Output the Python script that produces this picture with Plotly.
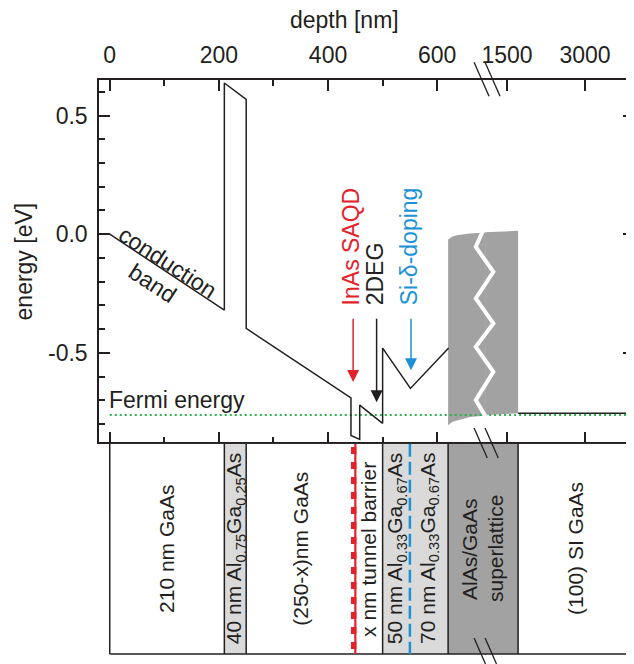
import plotly.graph_objects as go

# ---------------- data ----------------
# conduction band, GaAs side of the axis break  (depth nm, energy eV)
band_depth = [0, 210, 210, 250, 250, 442, 442, 458, 458, 500, 500, 551, 621]
band_energy = [0.0, -0.32, 0.637, 0.568, -0.397, -0.69, -0.848, -0.865, -0.72, -0.797, -0.48, -0.65, -0.48]

# conduction band in the SI GaAs substrate
substrate_depth = [1712, 4000]
substrate_energy = [-0.755, -0.755]

# superlattice band envelope (grey area)
sl_depth = [620, 628, 636, 660, 690, 1070, 1712]
sl_top_energy = [-0.022, -0.010, -0.004, 0.003, 0.007, 0.008, 0.014]
sl_bottom_energy = [-0.805, -0.790, -0.783, -0.770, -0.764, -0.762, -0.755]

# Fermi level
fermi_depth = [0, 4000]
fermi_energy = -0.762

# labelled markers with arrows
marker_labels = ["InAs SAQD", "2DEG", "Si-δ-doping"]
marker_depth = [446, 489, 552]
marker_tip = [-0.623, -0.708, -0.573]
marker_tail = -0.35

# layer stack
layer_start = [0, 210, 250, 450, 500, 550, 620, 1712]
layer_end = [210, 250, 450, 500, 550, 620, 1712, 4000]
layer_labels = [
    ["210 nm GaAs"],
    ["40 nm Al<sub>0.75</sub>Ga<sub>0.25</sub>As"],
    ["(250-x)nm GaAs"],
    ["x nm tunnel barrier"],
    ["50 nm Al<sub>0.33</sub>Ga<sub>0.67</sub>As"],
    ["70 nm Al<sub>0.33</sub>Ga<sub>0.67</sub>As"],
    ["AlAs/GaAs", "superlattice"],
    ["(100) SI GaAs"],
]
layer_kind = ["gaas", "algaas", "gaas", "barrier", "algaas", "algaas", "sl", "gaas"]
layer_borders = [0, 210, 250, 500, 620, 1712]
qd_depth = 450
doping_depth = 550

x_ticks_left = [0, 200, 400, 600]
x_minor_left = [100, 300, 500]
x_ticks_right = [1500, 3000]
y_ticks = [-0.5, 0.0, 0.5]
y_ticktext = ["-0.5", "0.0", "0.5"]

# ---------------- style / geometry ----------------
INK = "#231f20"
RED = "#e3222b"
BLUE = "#1b92d6"
GREEN = "#2bb34b"
SL_GREY = "#a2a2a2"
LIGHT_GREY = "#dadada"
FONT = "Liberation Sans, Arial, Helvetica, sans-serif"
FS = 23
FS_LAYER = 21
LW = 1.5

# page coordinates (the html body adds an 8px margin); axis lines sit half a
# line width outside the plot area, so the plot edges are offset by LW/2
PAGE_W, PAGE_H, OFF = 634, 664, 8
PLOT_L, PLOT_R, PLOT_T, PLOT_B = 98 + LW / 2, 634, 79 + LW / 2, 660
FIG_W, FIG_H = PAGE_W - OFF, PAGE_H - OFF
PW, PH = PLOT_R - PLOT_L, PLOT_B - PLOT_T


def fx(p):
    return (p - PLOT_L) / PW


def fy(p):
    return (PLOT_B - p) / PH


BREAK_PX = 485
TOP_BOTTOM_PX = 443 - LW / 2
LAYER_TOP_PX = 443 + LW / 2
LAYER_BOTTOM_PX = 654
# pixel scales
X0_PX, X_PX_PER_NM = 109.5, 0.546
X1500_PX, X_NM_PER_PX_R = 507, 1500 / 78
E0_PX, PX_PER_EV = 234, 237.4
XL = [(PLOT_L - X0_PX) / X_PX_PER_NM, (BREAK_PX - X0_PX) / X_PX_PER_NM]
# layer panel's left part overlaps the break by 1px to avoid a seam
XL3 = [XL[0], (BREAK_PX + 1 - X0_PX) / X_PX_PER_NM]
XR = [1500 + (BREAK_PX - X1500_PX) * X_NM_PER_PX_R, 1500 + (PLOT_R - X1500_PX) * X_NM_PER_PX_R]
YR = [(E0_PX - TOP_BOTTOM_PX) / PX_PER_EV, (E0_PX - PLOT_T) / PX_PER_EV]
Y3R = [-(PLOT_B - LAYER_BOTTOM_PX) / (LAYER_BOTTOM_PX - LAYER_TOP_PX), 1]
colors = [RED, INK, BLUE]
fills = {"gaas": "white", "barrier": "white", "algaas": LIGHT_GREY, "sl": SL_GREY}


def depth_px(d):
    if d <= XL[1]:
        return PLOT_L + (d - XL[0]) / (XL[1] - XL[0]) * (BREAK_PX - PLOT_L)
    d = min(d, XR[1])
    return BREAK_PX + (d - XR[0]) / (XR[1] - XR[0]) * (PLOT_R - BREAK_PX)


fig = go.Figure()
subplots_top = [("x", "y"), ("x2", "y2")]
subplots_low = [("x3", "y3"), ("x4", "y4")]

# layer fills and borders
for xa, ya in subplots_low:
    for s, e, k in zip(layer_start, layer_end, layer_kind):
        fig.add_trace(go.Scatter(x=[s, e, e, s, s], y=[0, 0, 1, 1, 0], mode="lines",
                                 fill="toself", fillcolor=fills[k], line=dict(width=0),
                                 xaxis=xa, yaxis=ya, hoverinfo="skip", showlegend=False))
    bx, by = [], []
    for b in layer_borders:
        bx += [b, b, None]
        by += [0, 1, None]
    bx += [layer_start[0], layer_end[-1]]
    by += [0, 0]
    fig.add_trace(go.Scatter(x=bx, y=by, mode="lines", line=dict(color=INK, width=LW),
                             xaxis=xa, yaxis=ya, hoverinfo="skip", showlegend=False))

# InAs dot layer and Si delta doping
fig.add_trace(go.Scatter(x=[qd_depth, qd_depth], y=[0, 1], mode="lines",
                         line=dict(color=RED, width=2.2), xaxis="x3", yaxis="y3", showlegend=False))
fig.add_trace(go.Scatter(x=[qd_depth - 3, qd_depth - 3], y=[0.985, 0], mode="lines",
                         line=dict(color=RED, width=5.5, dash="7px,8px"), xaxis="x3", yaxis="y3",
                         showlegend=False))
fig.add_trace(go.Scatter(x=[doping_depth, doping_depth], y=[1, 0], mode="lines",
                         line=dict(color=BLUE, width=2.5, dash="13px,5px"), xaxis="x3", yaxis="y3",
                         showlegend=False))

# superlattice envelope, Fermi level
for xa, ya in subplots_top:
    fig.add_trace(go.Scatter(x=sl_depth + sl_depth[::-1] + [sl_depth[0]],
                             y=sl_top_energy + sl_bottom_energy[::-1] + [sl_top_energy[0]],
                             mode="lines", fill="toself", fillcolor=SL_GREY, line=dict(width=0),
                             xaxis=xa, yaxis=ya, hoverinfo="skip", showlegend=False))
for xa, ya in subplots_top:
    fig.add_trace(go.Scatter(x=fermi_depth, y=[fermi_energy] * len(fermi_depth), mode="lines",
                             line=dict(color=GREEN, width=2, dash="2px,3px"),
                             xaxis=xa, yaxis=ya, showlegend=False))

# conduction band
fig.add_trace(go.Scatter(x=band_depth, y=band_energy, mode="lines",
                         line=dict(color=INK, width=LW), xaxis="x", yaxis="y", showlegend=False))
fig.add_trace(go.Scatter(x=substrate_depth, y=substrate_energy, mode="lines",
                         line=dict(color=INK, width=LW), xaxis="x2", yaxis="y2", showlegend=False))

axis_common = dict(showgrid=False, zeroline=False, showline=True, linecolor=INK, linewidth=LW,
                   ticks="inside", ticklen=11, tickwidth=LW, tickcolor=INK,
                   tickfont=dict(family=FONT, size=FS, color=INK))
minor_common = dict(ticks="inside", ticklen=6, tickwidth=LW, tickcolor=INK)
hidden = dict(visible=False, showgrid=False, zeroline=False)
fig.update_layout(
    width=FIG_W, height=FIG_H,
    margin=dict(l=PLOT_L - OFF, r=PAGE_W - PLOT_R, t=PLOT_T - OFF, b=PAGE_H - PLOT_B, pad=0),
    paper_bgcolor="white", plot_bgcolor="rgba(0,0,0,0)", showlegend=False,
    font=dict(family=FONT, size=FS, color=INK),
    xaxis=dict(domain=[0, fx(BREAK_PX)], range=XL, side="top", anchor="y", mirror="ticks",
               tickmode="array", tickvals=x_ticks_left, ticklabelstandoff=6,
               minor=dict(tickmode="array", tickvals=x_minor_left, **minor_common),
               **axis_common),
    xaxis2=dict(domain=[fx(BREAK_PX), 1], range=XR, side="top", anchor="y2", mirror="ticks",
                tickmode="array", tickvals=x_ticks_right, ticklabelstandoff=6, **axis_common),
    xaxis3=dict(domain=[0, fx(BREAK_PX + 1)], range=XL3, anchor="y3", **hidden),
    xaxis4=dict(domain=[fx(BREAK_PX), 1], range=XR, anchor="y4", **hidden),
    yaxis=dict(domain=[fy(TOP_BOTTOM_PX), 1], range=YR, anchor="x", tickmode="array",
               tickvals=y_ticks, ticktext=y_ticktext, ticklabelstandoff=5,
               minor=dict(tickmode="linear", tick0=0, dtick=0.1, **minor_common),
               **axis_common),
    yaxis2=dict(domain=[fy(TOP_BOTTOM_PX), 1], range=YR, anchor="x2", side="right",
                tickmode="array", tickvals=y_ticks, showticklabels=False,
                minor=dict(tickmode="linear", tick0=0, dtick=0.1, **minor_common),
                **{**axis_common, "showline": False}),
    yaxis3=dict(domain=[0, fy(LAYER_TOP_PX)], range=Y3R, anchor="x3", **hidden),
    yaxis4=dict(domain=[0, fy(LAYER_TOP_PX)], range=Y3R, anchor="x4", **hidden),
)

ann = []
ann.append(dict(text="depth [nm]", xref="paper", yref="paper", x=fx(344), y=fy(20),
                xanchor="center", yanchor="middle", showarrow=False, font=dict(size=FS)))
ann.append(dict(text="energy [eV]", xref="paper", yref="paper", x=fx(24), y=fy(261),
                xanchor="center", yanchor="middle", textangle=-90, showarrow=False,
                font=dict(size=FS)))
ann.append(dict(text="conduction", xref="x", yref="y", x=105.3, y=-0.118, textangle=33,
                xanchor="center", yanchor="middle", showarrow=False, font=dict(size=FS)))
ann.append(dict(text="band", xref="x", yref="y", x=77.8, y=-0.206, textangle=33,
                xanchor="center", yanchor="middle", showarrow=False, font=dict(size=FS)))
ann.append(dict(text="Fermi energy", xref="x", yref="y", x=band_depth[0], y=fermi_energy,
                xanchor="left", yanchor="bottom", xshift=-3, yshift=0, showarrow=False,
                font=dict(size=FS)))
for lab, d, tip, col in zip(marker_labels, marker_depth, marker_tip, colors):
    ann.append(dict(text="", x=d, y=tip, ax=d, ay=marker_tail, xref="x", yref="y",
                    axref="x", ayref="y", showarrow=True, arrowhead=2, arrowsize=1.6,
                    arrowwidth=1.5, arrowcolor=col, standoff=0, startstandoff=0))
    ann.append(dict(text=lab, x=d, y=marker_tail, xref="x", yref="y", textangle=-90,
                    xanchor="center", yanchor="bottom", yshift=10, xshift=-2, showarrow=False,
                    font=dict(size=FS, color=col)))
LINE_GAP = 26
for s, e, lines in zip(layer_start, layer_end, layer_labels):
    cpx = (depth_px(s) + depth_px(e)) / 2
    n = len(lines)
    for i, lab in enumerate(lines):
        off = (i - (n - 1) / 2) * LINE_GAP
        ann.append(dict(text=lab, xref="paper", yref="y3", x=fx(cpx + off), y=0.5,
                        xanchor="center", yanchor="middle", textangle=-90,
                        showarrow=False, font=dict(size=FS_LAYER, color=INK)))
fig.update_layout(annotations=ann)

# axis-break symbols (decorative)
zig = [(483.5, 229), (475.7, 246.7), (493.3, 271.7), (475.7, 298.3), (493.3, 323.3),
       (475.7, 346.7), (493.3, 371.7), (475.7, 400), (487, 419)]
path = "M " + " L ".join(f"{fx(a):.5f},{fy(b):.5f}" for a, b in zig)
shapes = [dict(type="path", path=path, xref="paper", yref="paper",
               line=dict(color="white", width=4), layer="above")]
for y0, y1 in [(62, 96), (428, 458), (638, 664)]:
    for dx in (0, 11):
        shapes.append(dict(type="line", xref="paper", yref="paper",
                           x0=fx(474 + dx), y0=fy(y0), x1=fx(474 + dx + (y1 - y0) * 0.44), y1=fy(y1),
                           line=dict(color=INK, width=1.3), layer="above"))
fig.update_layout(shapes=shapes)

fig.write_html("out.html")
